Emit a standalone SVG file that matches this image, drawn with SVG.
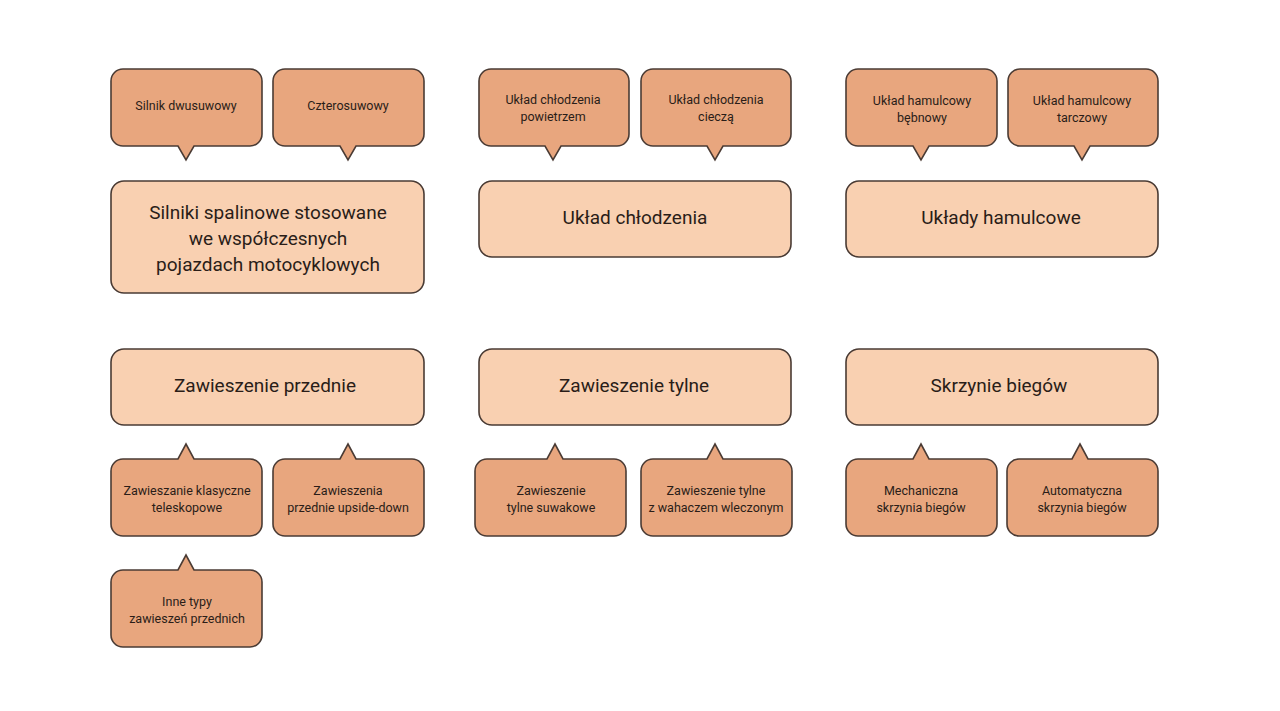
<svg xmlns="http://www.w3.org/2000/svg" width="1280" height="711" viewBox="0 0 1280 711">
<style>
.c{fill:#E8A67E;stroke:#4a3b34;stroke-width:1.6}
.b{fill:#F9D0B1;stroke:#4a3b34;stroke-width:1.6}
text{font-family:Roboto,"Liberation Sans",sans-serif;fill:#2a1d18;text-anchor:middle;dominant-baseline:central}
.s{font-size:12.5px}
.l{font-size:19px}
</style>
<rect width="1280" height="711" fill="#fff"/>
<g id="connectors"/>
<g id="n1"><path class="c" d="M123,69 H250 A12 12 0 0 1 262,81 V134 A12 12 0 0 1 250,146 H194 L186,160 L178,146 H123 A12 12 0 0 1 111,134 V81 A12 12 0 0 1 123,69 Z"/><text class="s" x="186" y="105">Silnik dwusuwowy</text></g>
<g id="n2"><path class="c" d="M285,69 H412 A12 12 0 0 1 424,81 V134 A12 12 0 0 1 412,146 H356 L348,160 L340,146 H285 A12 12 0 0 1 273,134 V81 A12 12 0 0 1 285,69 Z"/><text class="s" x="348" y="105">Czterosuwowy</text></g>
<g id="n3"><path class="c" d="M491,69 H617 A12 12 0 0 1 629,81 V134 A12 12 0 0 1 617,146 H561 L553,160 L545,146 H491 A12 12 0 0 1 479,134 V81 A12 12 0 0 1 491,69 Z"/><text class="s" x="553" y="99">Układ chłodzenia</text><text class="s" x="553" y="116">powietrzem</text></g>
<g id="n4"><path class="c" d="M653,69 H779 A12 12 0 0 1 791,81 V134 A12 12 0 0 1 779,146 H723 L715,160 L707,146 H653 A12 12 0 0 1 641,134 V81 A12 12 0 0 1 653,69 Z"/><text class="s" x="716" y="99">Układ chłodzenia</text><text class="s" x="716" y="116">cieczą</text></g>
<g id="n5"><path class="c" d="M858,69 H985 A12 12 0 0 1 997,81 V134 A12 12 0 0 1 985,146 H929 L921,160 L913,146 H858 A12 12 0 0 1 846,134 V81 A12 12 0 0 1 858,69 Z"/><text class="s" x="922" y="100">Układ hamulcowy</text><text class="s" x="922" y="117">bębnowy</text></g>
<g id="n6"><path class="c" d="M1020,69 H1146 A12 12 0 0 1 1158,81 V134 A12 12 0 0 1 1146,146 H1090 L1082,160 L1074,146 H1020 A12 12 0 0 1 1008,134 V81 A12 12 0 0 1 1020,69 Z"/><text class="s" x="1082" y="100">Układ hamulcowy</text><text class="s" x="1082" y="117">tarczowy</text></g>
<g id="b1"><rect class="b" x="111" y="181" width="313" height="112" rx="13"/><text class="l" x="268" y="212">Silniki spalinowe stosowane</text><text class="l" x="268" y="238">we współczesnych</text><text class="l" x="268" y="264">pojazdach motocyklowych</text></g>
<g id="b2"><rect class="b" x="479" y="181" width="312" height="76" rx="13"/><text class="l" x="635" y="217">Układ chłodzenia</text></g>
<g id="b3"><rect class="b" x="846" y="181" width="312" height="76" rx="13"/><text class="l" x="1001" y="217">Układy hamulcowe</text></g>
<g id="b4"><rect class="b" x="111" y="349" width="313" height="76" rx="13"/><text class="l" x="265" y="385">Zawieszenie przednie</text></g>
<g id="b5"><rect class="b" x="479" y="349" width="312" height="76" rx="13"/><text class="l" x="634" y="385">Zawieszenie tylne</text></g>
<g id="b6"><rect class="b" x="846" y="349" width="312" height="76" rx="13"/><text class="l" x="999" y="385">Skrzynie biegów</text></g>
<g id="n7"><path class="c" d="M123,459 H178 L186,444 L194,459 H250 A12 12 0 0 1 262,471 V524 A12 12 0 0 1 250,536 H123 A12 12 0 0 1 111,524 V471 A12 12 0 0 1 123,459 Z"/><text class="s" x="187" y="490">Zawieszanie klasyczne</text><text class="s" x="187" y="507">teleskopowe</text></g>
<g id="n8"><path class="c" d="M285,459 H340 L348,444 L356,459 H412 A12 12 0 0 1 424,471 V524 A12 12 0 0 1 412,536 H285 A12 12 0 0 1 273,524 V471 A12 12 0 0 1 285,459 Z"/><text class="s" x="348" y="490">Zawieszenia</text><text class="s" x="348" y="507">przednie upside-down</text></g>
<g id="n9"><path class="c" d="M123,570 H178 L186,555 L194,570 H250 A12 12 0 0 1 262,582 V635 A12 12 0 0 1 250,647 H123 A12 12 0 0 1 111,635 V582 A12 12 0 0 1 123,570 Z"/><text class="s" x="187" y="601">Inne typy</text><text class="s" x="187" y="618">zawieszeń przednich</text></g>
<g id="n10"><path class="c" d="M487,459 H547 L555,444 L563,459 H614 A12 12 0 0 1 626,471 V524 A12 12 0 0 1 614,536 H487 A12 12 0 0 1 475,524 V471 A12 12 0 0 1 487,459 Z"/><text class="s" x="551" y="490">Zawieszenie</text><text class="s" x="551" y="507">tylne suwakowe</text></g>
<g id="n11"><path class="c" d="M653,459 H707 L715,444 L723,459 H780 A12 12 0 0 1 792,471 V524 A12 12 0 0 1 780,536 H653 A12 12 0 0 1 641,524 V471 A12 12 0 0 1 653,459 Z"/><text class="s" x="716" y="490">Zawieszenie tylne</text><text class="s" x="716" y="507">z wahaczem wleczonym</text></g>
<g id="n12"><path class="c" d="M858,459 H913 L921,444 L929,459 H985 A12 12 0 0 1 997,471 V524 A12 12 0 0 1 985,536 H858 A12 12 0 0 1 846,524 V471 A12 12 0 0 1 858,459 Z"/><text class="s" x="921" y="490">Mechaniczna</text><text class="s" x="921" y="507">skrzynia biegów</text></g>
<g id="n13"><path class="c" d="M1019,459 H1072 L1080,444 L1088,459 H1146 A12 12 0 0 1 1158,471 V524 A12 12 0 0 1 1146,536 H1019 A12 12 0 0 1 1007,524 V471 A12 12 0 0 1 1019,459 Z"/><text class="s" x="1082" y="490">Automatyczna</text><text class="s" x="1082" y="507">skrzynia biegów</text></g>
</svg>
